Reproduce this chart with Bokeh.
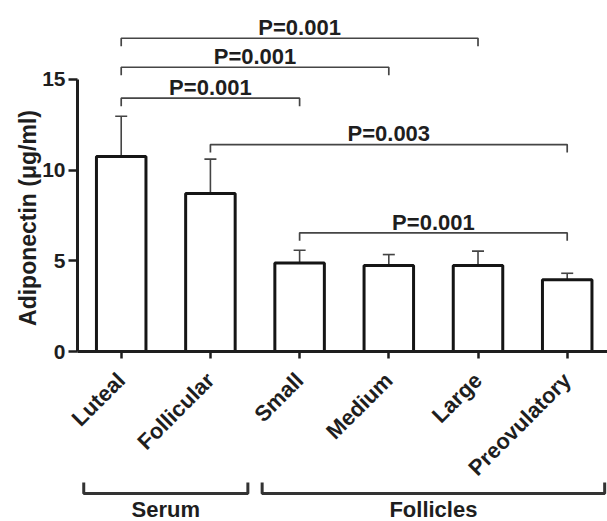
import math
from bokeh.plotting import figure
from bokeh.models import Range1d, FixedTicker, ColumnDataSource, Whisker, TeeHead
from bokeh.core.properties import value
from bokeh.embed import file_html
from bokeh.resources import INLINE

# ---------------- data ----------------
categories = ["Luteal", "Follicular", "Small", "Medium", "Large", "Preovulatory"]
means = [10.74, 8.70, 4.88, 4.74, 4.74, 3.95]
sems = [2.22, 1.90, 0.70, 0.60, 0.79, 0.36]

# significance brackets (category index pairs)
sig_left = [0, 0, 0, 1, 2]
sig_right = [4, 3, 2, 5, 5]
sig_height = [17.26, 15.66, 13.96, 11.40, 6.54]
sig_label = ["P=0.001", "P=0.001", "P=0.001", "P=0.003", "P=0.001"]

# groups of categories
group_names = ["Serum", "Follicles"]
group_first = [0, 2]
group_last = [1, 5]

y_ticks = [0, 5, 10, 15]
y_bounds = (0, 15)
y_label = "Adiponectin (\u03bcg/ml)"

# ---------------- geometry / style ----------------
FONT = "Liberation Sans"
INK = "#1e1e1e"
BRK = "#454545"
W, H = 607, 521
AXIS_X_PX = 77        # y-axis position (px from left)
AXIS_Y_PX = 351       # x-axis position (px from top)
PX_X = 89.2           # px per category
PX_Y = 18.15          # px per y unit
X_AXIS = -0.49        # data x where the y axis sits

def px(n):            # px -> x data units
    return n / PX_X

def py(n):            # px -> y data units
    return n / PX_Y

x_start = X_AXIS - px(AXIS_X_PX)
x_end = X_AXIS + px(W - AXIS_X_PX)
y_end = py(AXIS_Y_PX)
y_start = -py(H - AXIS_Y_PX)

xs_idx = list(range(len(categories)))
tops = [m + s for m, s in zip(means, sems)]

p = figure(width=W, height=H, x_range=Range1d(x_start, x_end),
           y_range=Range1d(y_start, y_end), output_backend="svg",
           toolbar_location=None, min_border=0)
p.outline_line_color = None
p.xgrid.grid_line_color = None
p.ygrid.grid_line_color = None

src = ColumnDataSource(dict(x=xs_idx, top=means, up=tops, name=categories))
p.vbar(x="x", top="top", bottom=0, width=0.555, source=src,
       fill_color="white", line_color="#151515", line_width=3)

wh = Whisker(base="x", lower="top", upper="up", source=src,
             line_color="#444444", line_width=1.6,
             upper_head=TeeHead(size=12, line_color="#444444", line_width=1.6),
             lower_head=None)
p.add_layout(wh)

# significance brackets
tick_d = py(8)
txt_off = py(10.6)
bxs, bys, mids, tys = [], [], [], []
for l, r, h in zip(sig_left, sig_right, sig_height):
    bxs.append([l, l, r, r])
    bys.append([h - tick_d, h, h, h - tick_d])
    mids.append((l + r) / 2)
    tys.append(h + txt_off)
p.multi_line(xs=bxs, ys=bys, line_color=BRK, line_width=1.7)
p.text(x=mids, y=tys, text=sig_label, text_align="center",
       text_baseline="middle", text_font=value(FONT),
       text_font_size="22px", text_font_style="bold", text_color=INK)

# x axis, drawn at y = 0 inside the canvas
xa = p.xaxis[0]
xa.fixed_location = 0
xa.bounds = (X_AXIS, x_end)
xa.ticker = FixedTicker(ticks=xs_idx)
xa.major_label_overrides = {i: c for i, c in zip(xs_idx, categories)}
xa.major_label_orientation = math.pi / 4
xa.major_label_text_font = FONT
xa.major_label_text_font_size = "22px"
xa.major_label_text_font_style = "bold"
xa.major_label_text_color = INK
xa.major_label_standoff = 18
xa.axis_line_width = 3
xa.axis_line_color = INK
xa.major_tick_line_width = 2.5
xa.major_tick_line_color = INK
xa.major_tick_out = 7
xa.major_tick_in = 0
xa.minor_tick_line_color = None

# y axis, drawn at x = X_AXIS
ya = p.yaxis[0]
ya.fixed_location = X_AXIS
ya.bounds = y_bounds
ya.ticker = FixedTicker(ticks=y_ticks)
ya.major_label_text_font = FONT
ya.major_label_text_font_size = "21px"
ya.major_label_text_font_style = "bold"
ya.major_label_text_color = INK
ya.major_label_standoff = 3
ya.axis_line_width = 3
ya.axis_line_color = INK
ya.major_tick_line_width = 2.5
ya.major_tick_line_color = INK
ya.major_tick_out = 9
ya.major_tick_in = 0
ya.minor_tick_line_color = None

# y-axis title
p.text(x=[x_start + px(27.5)], y=[py(AXIS_Y_PX - 217.5)], text=[y_label],
       angle=math.pi / 2, text_align="center", text_baseline="middle",
       text_font=value(FONT), text_font_size="23px", text_font_style="bold",
       text_color=INK)

# group brackets under the category labels
pad = 0.42
g_top, g_line, g_text = -py(482 - AXIS_Y_PX), -py(493 - AXIS_Y_PX), -py(509 - AXIS_Y_PX)
gx, gy, gm = [], [], []
for a, b in zip(group_first, group_last):
    gx.append([a - pad, a - pad, b + pad, b + pad])
    gy.append([g_top, g_line, g_line, g_top])
    gm.append((a + b) / 2)
p.multi_line(xs=gx, ys=gy, line_color="#333333", line_width=3)
p.text(x=gm, y=[g_text] * len(gm), text=group_names, text_align="center",
       text_baseline="middle", text_font=value(FONT),
       text_font_size="22px", text_font_style="bold", text_color=INK)

open("out.html", "w").write(file_html(p, INLINE))
